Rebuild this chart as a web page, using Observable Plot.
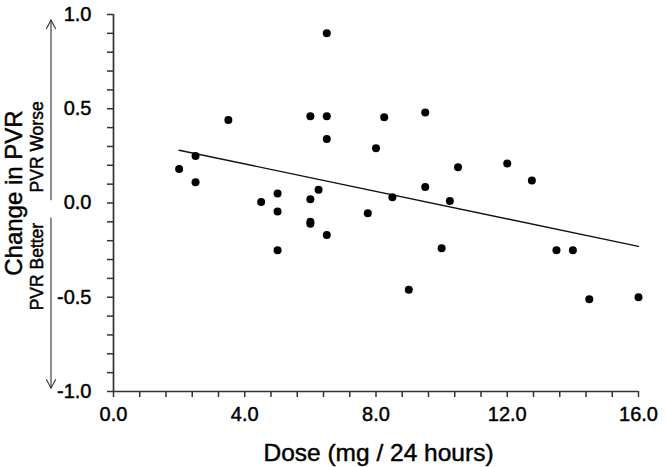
<!DOCTYPE html>
<html><head><meta charset="utf-8">
<script src="https://cdn.jsdelivr.net/npm/d3@7"></script>
<script src="https://cdn.jsdelivr.net/npm/@observablehq/plot@0.6"></script>
<style>
body{margin:0;background:#fff}
#chart svg text{stroke:#000;stroke-width:0.45px}
</style>
</head><body><div id="chart"></div>
<script>
// Data
const dose = [6.5, 3.5, 6.0, 6.5, 6.5, 2.5, 2.0, 2.5, 5.0, 6.25, 4.5, 6.0, 5.0, 6.0, 6.0, 6.5, 5.0,
              8.25, 9.5, 8.0, 10.5, 12.0, 12.75, 8.5, 9.5, 10.25, 7.75, 10.0, 9.0, 13.5, 14.0, 14.5, 16.0];
const pvrChange = [0.90, 0.44, 0.46, 0.46, 0.34, 0.25, 0.18, 0.11, 0.05, 0.07, 0.005, 0.02, -0.045, -0.10, -0.11, -0.17, -0.25,
                   0.455, 0.48, 0.29, 0.19, 0.21, 0.12, 0.03, 0.085, 0.01, -0.055, -0.24, -0.46, -0.25, -0.25, -0.51, -0.50];
const fitDose = [2, 16];
const fitChange = [0.28, -0.23];

const xMajorTicks = [0, 4, 8, 12, 16];
const xMinorStep = 0.8;
const yMajorTicks = [-1, -0.5, 0, 0.5, 1];
const yMinorStep = 0.1;

const xTitle = "Dose (mg / 24 hours)";
const yTitle = "Change in PVR";
const worseLabel = "PVR Worse";
const betterLabel = "PVR Better";

const points = dose.map((d, i) => ({dose: d, change: pvrChange[i]}));
const fit = fitDose.map((d, i) => ({dose: d, change: fitChange[i]}));

const xTicks = d3.range(0, Math.round(16 / xMinorStep) + 1).map(i => +(i * xMinorStep).toFixed(4));
const yTicks = d3.range(-Math.round(1 / yMinorStep), Math.round(1 / yMinorStep) + 1).map(i => +(i * yMinorStep).toFixed(4));
const isMajor = (v, majors) => majors.some(m => Math.abs(m - v) < 1e-6);

const FONT = "'Liberation Sans', Arial, Helvetica, sans-serif";
const AXIS = "#333";

function annotations(index, scales, values, dims) {
  const g = d3.create("svg:g").attr("font-family", FONT);
  const y = scales.y;
  const left = dims.marginLeft;
  const ax = left - 62;
  const arrow = (y1, y2) => {
    const dir = y2 < y1 ? 1 : -1; // 1 = pointing up
    g.append("line").attr("x1", ax).attr("x2", ax).attr("y1", y1).attr("y2", y2)
      .attr("stroke", AXIS).attr("stroke-width", 1.1);
    g.append("path")
      .attr("d", `M${ax - 4.7},${y2 + dir * 9}L${ax},${y2}L${ax + 4.7},${y2 + dir * 9}`)
      .attr("fill", "none").attr("stroke", AXIS).attr("stroke-width", 1.1);
  };
  arrow(y(0.012), y(0.968));
  arrow(y(-0.08), y(-0.985));
  const vtext = (txt, x, yy, size) => {
    g.append("text").attr("transform", `translate(${x},${yy}) rotate(-90)`)
      .attr("text-anchor", "middle").attr("font-size", size).attr("fill", "#000").text(txt);
  };
  vtext(yTitle, left - 91, y(0.05), 24);
  vtext(worseLabel, left - 70, y(0.295), 17.5);
  vtext(betterLabel, left - 70, y(-0.34), 17.5);
  const xc = (dims.marginLeft + dims.width - dims.marginRight) / 2 + 3;
  g.append("text").attr("x", xc).attr("y", dims.height - dims.marginBottom + 70)
    .attr("text-anchor", "middle").attr("font-size", 24.5).attr("fill", "#000").text(xTitle);
  return g.node();
}

const chart = Plot.plot({
  width: 666,
  height: 467,
  marginLeft: 113,
  marginRight: 28,
  marginTop: 14,
  marginBottom: 76,
  x: {domain: [0, 16]},
  y: {domain: [-1, 1]},
  style: {fontFamily: FONT, fontSize: "20px", color: "#000", background: "#fff"},
  marks: [
    Plot.axisX({ticks: xTicks, tickSize: 6, tickPadding: 9, stroke: AXIS, strokeWidth: 1.5,
      tickFormat: d => isMajor(d, xMajorTicks) ? d.toFixed(1) : "", label: null, fontSize: 20}),
    Plot.axisY({ticks: yTicks, tickSize: 6, tickPadding: 16, stroke: AXIS, strokeWidth: 1.5,
      tickFormat: d => isMajor(d, yMajorTicks) ? d.toFixed(1) : "", label: null, fontSize: 20}),
    Plot.ruleX([0], {stroke: AXIS, strokeWidth: 1.7}),
    Plot.ruleY([-1], {stroke: AXIS, strokeWidth: 1.7}),
    Plot.line(fit, {x: "dose", y: "change", stroke: "#111", strokeWidth: 1.4}),
    Plot.dot(points, {x: "dose", y: "change", r: 4, fill: "#000", stroke: "none"}),
    annotations
  ]
});
document.getElementById("chart").appendChild(chart);
</script>
</body></html>
